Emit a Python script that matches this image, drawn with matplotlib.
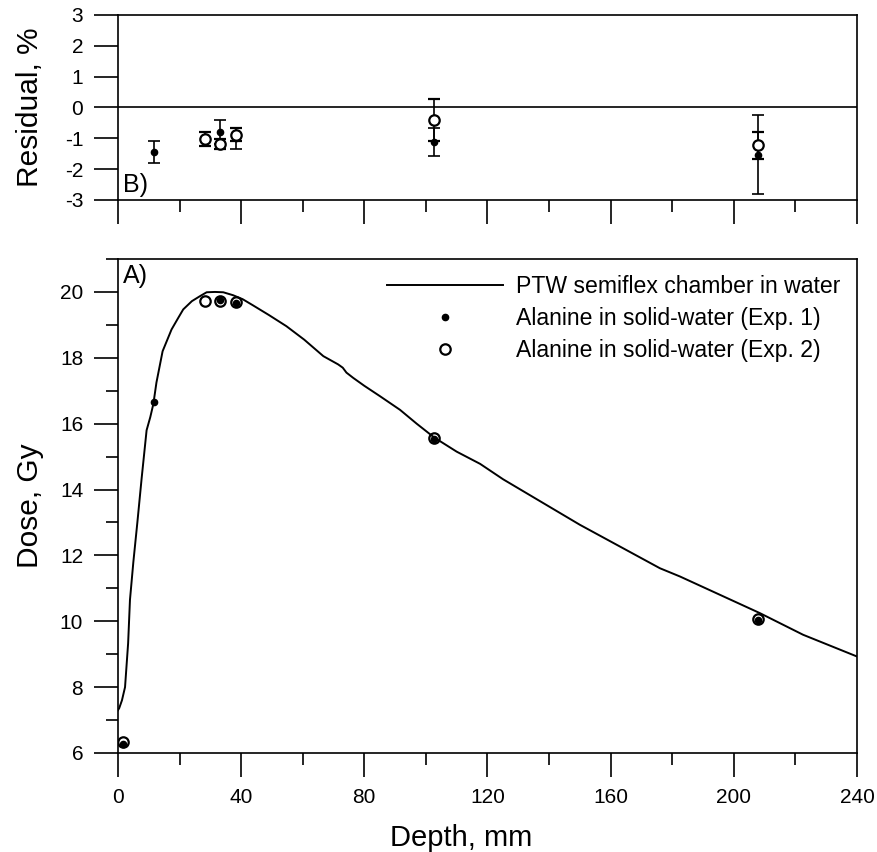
import numpy as np
import matplotlib
matplotlib.use('Agg')
import matplotlib.pyplot as plt
from matplotlib.ticker import MultipleLocator

plt.rcParams['font.family'] = ['Liberation Sans', 'DejaVu Sans']
plt.rcParams['axes.unicode_minus'] = False

# PTW semiflex chamber depth-dose curve
curve_x = [0, 0.4, 1.3, 2.3, 3.3, 3.9, 5.0, 6.3, 7.7, 9.3, 10.5, 11.5, 12.5, 14.5,
           17.4, 19.5, 21.2, 24.0, 26.6, 28.8, 31.5, 34.2, 37.4, 40.5, 43.9, 49.0,
           54.7, 60.5, 66.7, 71.5, 73.0, 74.2, 76.4, 80.0, 85.0, 91.6, 97.0, 102.7,
           110.0, 117.6, 125.1, 150.0, 176.0, 182.5, 208.4, 222.5, 240.0]
curve_y = [7.3, 7.36, 7.6, 8.0, 9.33, 10.65, 11.8, 13.0, 14.35, 15.8, 16.2, 16.6, 17.25, 18.2,
           18.86, 19.2, 19.47, 19.72, 19.87, 19.99, 20.0, 19.99, 19.9, 19.78, 19.59, 19.3,
           18.96, 18.55, 18.05, 17.8, 17.7, 17.55, 17.39, 17.15, 16.84, 16.42, 16.0, 15.58,
           15.15, 14.78, 14.31, 12.93, 11.61, 11.36, 10.25, 9.59, 8.93]

# alanine doses
exp1_x = [1.7, 11.7, 33.2, 38.2, 102.7, 207.9]
exp1_dose = [6.28, 16.66, 19.75, 19.67, 15.52, 10.04]
exp2_x = [1.7, 28.2, 33.2, 38.2, 102.7, 207.9]
exp2_dose = [6.32, 19.72, 19.74, 19.70, 15.58, 10.06]

# residuals, %
res1_x = [11.7, 33.2, 38.2, 102.7, 207.9]
res1 = [-1.45, -0.80, -1.0, -1.13, -1.53]
res1_err = [0.36, 0.38, 0.35, 0.46, 1.29]
res2_x = [28.2, 33.2, 38.2, 102.7, 207.9]
res2 = [-1.03, -1.18, -0.88, -0.40, -1.23]
res2_err = [0.23, 0.16, 0.2, 0.68, 0.45]

fig = plt.figure(figsize=(8.77, 8.52), dpi=100)
ax_r = fig.add_axes([0.1345, 0.7653, 0.8427, 0.2171])
ax_d = fig.add_axes([0.1345, 0.1162, 0.8427, 0.5798])

lw = 1.2
for ax in (ax_r, ax_d):
    for s in ax.spines.values():
        s.set_linewidth(lw)
    ax.set_xlim(0, 240)
    ax.xaxis.set_major_locator(MultipleLocator(40))
    ax.xaxis.set_minor_locator(MultipleLocator(20))
    ax.tick_params(which='major', direction='out', length=17, width=lw, labelsize=15, pad=8)
    ax.tick_params(which='minor', direction='out', length=8.5, width=lw)

# residual panel
ax_r.axhline(0, color='black', lw=lw)
ax_r.errorbar(res1_x, res1, yerr=res1_err, fmt='o', color='black', ms=4.5,
              elinewidth=1.2, capsize=4, capthick=1.2)
ax_r.errorbar(res2_x, res2, yerr=res2_err, fmt='o', color='black', mfc='white', mec='black',
              mew=1.6, ms=7.5, elinewidth=1.2, capsize=4, capthick=1.2)
ax_r.set_ylim(-3, 3)
ax_r.yaxis.set_major_locator(MultipleLocator(1))
ax_r.tick_params(axis='x', labelbottom=False)
ax_r.set_ylabel('Residual, %', fontsize=21.5)
ax_r.yaxis.set_label_coords(-0.10, 0.5)
ax_r.text(0.007, 0.015, 'B)', transform=ax_r.transAxes, fontsize=18, va='bottom', ha='left')

# dose panel
ax_d.plot(curve_x, curve_y, color='black', lw=1.4, label='PTW semiflex chamber in water')
ax_d.plot(exp1_x, exp1_dose, 'o', color='black', ms=4.5, label='Alanine in solid-water (Exp. 1)')
ax_d.plot(exp2_x, exp2_dose, 'o', color='black', mfc='none', mew=1.6, ms=7.5,
          label='Alanine in solid-water (Exp. 2)')
ax_d.set_ylim(6, 21)
ax_d.yaxis.set_major_locator(MultipleLocator(2))
ax_d.yaxis.set_minor_locator(MultipleLocator(1))
ax_d.set_ylabel('Dose, Gy', fontsize=21.5)
ax_d.yaxis.set_label_coords(-0.10, 0.5)
ax_d.set_xlabel('Depth, mm', fontsize=21)
ax_d.xaxis.set_label_coords(0.465, -0.143)
ax_d.text(0.007, 0.99, 'A)', transform=ax_d.transAxes, fontsize=18, va='top', ha='left')

leg = ax_d.legend(loc='upper right', frameon=False, fontsize=16.6, handlelength=5.0,
                  handletextpad=0.6, labelspacing=0.38, borderaxespad=0.3,
                  bbox_to_anchor=(1.0, 1.0))

plt.savefig('out.png', dpi=100)
